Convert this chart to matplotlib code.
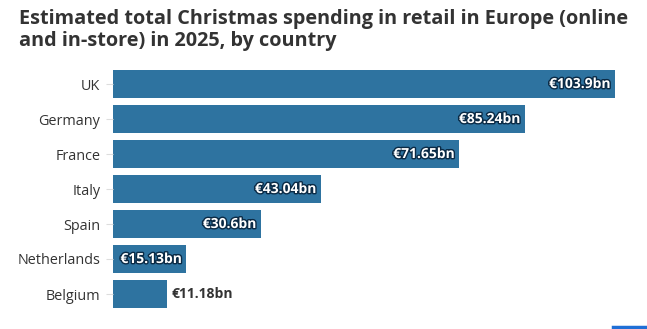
import matplotlib
matplotlib.use("Agg")
import matplotlib.pyplot as plt
import matplotlib.patheffects as pe
from matplotlib.lines import Line2D

countries = ["UK", "Germany", "France", "Italy", "Spain", "Netherlands", "Belgium"]
values = [103.9, 85.24, 71.65, 43.04, 30.6, 15.13, 11.18]
labels = ["€103.9bn", "€85.24bn", "€71.65bn", "€43.04bn", "€30.6bn", "€15.13bn", "€11.18bn"]
title_lines = ["Estimated total Christmas spending in retail in Europe (online",
               "and in-store) in 2025, by country"]

plt.rcParams["font.family"] = ["Open Sans", "DejaVu Sans"]

W, H = 647, 329
fig = plt.figure(figsize=(W / 100, H / 100), dpi=100)
fig.patch.set_facecolor("white")

ax = fig.add_axes([113 / W, 1 - 311.5 / H, (615 - 113) / W, 245 / H])
bar_color = "#2e73a0"
ypos = list(range(len(countries)))
ax.barh(ypos, values, height=0.8, color=bar_color)
ax.set_xlim(0, values[0])
ax.set_ylim(len(countries) - 0.5, -0.5)
ax.set_yticks(ypos)
ax.set_yticklabels(countries, fontsize=10.4, color="#333333")
ax.set_xticks([])
ax.tick_params(axis="y", length=5, color="#dddddd", pad=4)
for s in ax.spines.values():
    s.set_visible(False)

outline = [pe.withStroke(linewidth=2.0, foreground="#0a2a45")]
for y, v, lab in zip(ypos, values, labels):
    if v > 14:
        ax.text(v - 0.9, y, lab, ha="right", va="center", fontsize=10,
                fontweight="bold", color="white", path_effects=outline)
    else:
        ax.text(v + 1.0, y, lab, ha="left", va="center", fontsize=10,
                fontweight="bold", color="#333333")

# Title: two lines, first line sized to span the header width
x0, x1 = 19, 631
t1 = fig.text(x0 / W, 1 - 24 / H, title_lines[0], ha="left", va="baseline",
              fontsize=13.8, fontweight="bold", color="#333333")
renderer = fig.canvas.get_renderer()
w = t1.get_window_extent(renderer).width
size = 13.8 * (x1 - x0) / w
t1.set_fontsize(size)
fig.text(x0 / W, 1 - 46 / H, title_lines[1], ha="left", va="baseline",
         fontsize=size, fontweight="bold", color="#333333")

fig.add_artist(Line2D([613 / W, 1.0], [1 - 327 / H, 1 - 327 / H],
                      transform=fig.transFigure, color="#1f6fd6", linewidth=2.5))

fig.savefig("out.png", dpi=100, facecolor="white")
